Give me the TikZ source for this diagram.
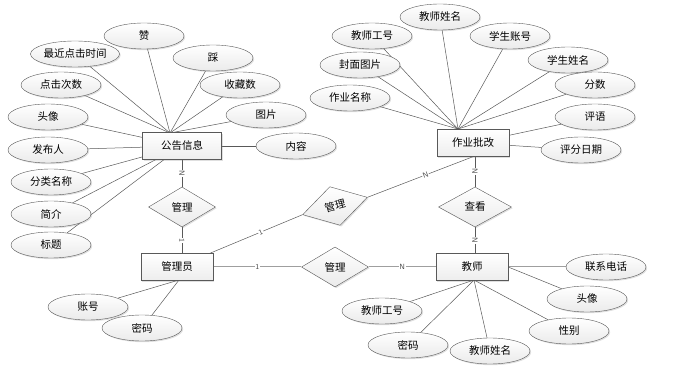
\documentclass[tikz,border=0pt]{standalone}
\usepackage{fontspec}
\newfontfamily\cjk{Noto Sans CJK SC}
\usetikzlibrary{arrows.meta,positioning,shapes.geometric,shadows,backgrounds}

\begin{document}
\begin{tikzpicture}[
    x=1pt, y=-1pt,
    base/.style={draw=black!65, font=\cjk\fontsize{10.5}{12}\selectfont,
      inner sep=0pt, drop shadow={opacity=0.25, shadow xshift=1.2pt, shadow yshift=-1.2pt}},
    entity/.style={base, rectangle, minimum width=72pt, minimum height=27pt,
      top color=white, bottom color=gray!14},
    attr/.style={base, ellipse, minimum width=80pt, minimum height=26pt,
      top color=white, bottom color=gray!16},
    rel/.style={base, diamond, minimum width=67pt, minimum height=40pt,
      top color=white, bottom color=gray!16},
    link/.style={draw=black!65, line width=0.5pt},
    heavy/.style={draw=gray!75, line width=1pt},
    card/.style={font=\sffamily\fontsize{7.5}{8}\selectfont, text=black!70,
      fill=white, inner sep=0.6pt, sloped},
  ]
  \useasboundingbox (0,0) rectangle (696,379);

  % Entities
  \node[entity, minimum width=79pt] (notice) at (182,146) {公告信息};
  \node[entity] (homework) at (473,143) {作业批改};
  \node[entity] (admin) at (177,267) {管理员};
  \node[entity] (teacher) at (472,267) {教师};

  % Relations
  \node[rel] (mgrNotice) at (182,207) {管理};
  \node[rel, minimum width=73pt] (view) at (475,207) {查看};
  \node[rel] (mgrTeacher) at (335,267) {管理};
  \node[rel, rotate=15] (mgrHomework) at (335,206) {管理};

  % Attributes of notice
  \node[attr] (nZan) at (144,36) {赞};
  \node[attr] (nLastClick) at (75,54) {最近点击时间};
  \node[attr] (nCai) at (213,58) {踩};
  \node[attr] (nClicks) at (61,85) {点击次数};
  \node[attr] (nFavs) at (240,85) {收藏数};
  \node[attr] (nAvatar) at (48,117) {头像};
  \node[attr] (nPic) at (266,115) {图片};
  \node[attr] (nAuthor) at (48,150) {发布人};
  \node[attr] (nContent) at (296,146) {内容};
  \node[attr] (nCategory) at (51,182) {分类名称};
  \node[attr] (nIntro) at (51,214) {简介};
  \node[attr] (nTitle) at (51,245) {标题};
  \coordinate (nHub) at (170,133);

  % Attributes of homework
  \node[attr] (hTName) at (440,17) {教师姓名};
  \node[attr] (hTNo) at (372,36) {教师工号};
  \node[attr] (hSAcc) at (510,36) {学生账号};
  \node[attr] (hCover) at (360,65) {封面图片};
  \node[attr] (hSName) at (568,60) {学生姓名};
  \node[attr] (hName) at (350,98) {作业名称};
  \node[attr] (hScore) at (595,85) {分数};
  \node[attr] (hComment) at (595,117) {评语};
  \node[attr] (hDate) at (581,150) {评分日期};
  \coordinate (hHub) at (458,129);

  % Attributes of teacher
  \node[attr] (tPhone) at (606,267) {联系电话};
  \node[attr] (tAvatar) at (587,299) {头像};
  \node[attr] (tNo) at (382,311) {教师工号};
  \node[attr] (tGender) at (569,331) {性别};
  \node[attr] (tPwd) at (408,345) {密码};
  \node[attr] (tName) at (490,351) {教师姓名};
  \coordinate (tHub) at (474,280);

  % Attributes of admin
  \node[attr] (aAcc) at (88,307) {账号};
  \node[attr] (aPwd) at (142,328) {密码};
  \coordinate (aHub) at (179,280);

  \begin{scope}[on background layer]
    % attribute links
    \foreach \a in {nZan,nLastClick,nCai,nClicks,nFavs,nPic}
      \draw[link] (\a) -- (nHub);
    \foreach \a in {nAvatar,nAuthor,nCategory,nIntro,nTitle,nContent}
      \draw[link] (\a) -- (notice);
    \foreach \a in {hTName,hTNo,hSAcc,hCover,hSName,hName,hScore}
      \draw[link] (\a) -- (hHub);
    \foreach \a in {hComment,hDate}
      \draw[link] (\a) -- (homework);
    \foreach \a in {tNo,tPwd,tName,tGender}
      \draw[link] (\a) -- (tHub);
    \draw[heavy] (teacher.east) -- (tPhone);
    \draw[link] (teacher.east) -- (tAvatar);
    \foreach \a in {aAcc,aPwd}
      \draw[link] (\a) -- (aHub);

    % relation links
    \draw[link] (notice.south -| mgrNotice) -- node[card] {N} (mgrNotice);
    \draw[link] (mgrNotice) -- node[card] {1} (admin.north -| mgrNotice);
    \draw[link] (homework.south -| view) -- node[card] {N} (view);
    \draw[link] (view) -- node[card] {N} (teacher.north -| view);
    \draw[heavy] (admin) -- node[card] {1} (mgrTeacher);
    \draw[heavy] (mgrTeacher) -- node[card] {N} (teacher);
    \draw[link] (admin) -- node[card, pos=0.55] {1} (mgrHomework.west);
    \draw[link] (mgrHomework.east) -- node[card, pos=0.55] {N} (homework.south);
  \end{scope}
\end{tikzpicture}
\end{document}
